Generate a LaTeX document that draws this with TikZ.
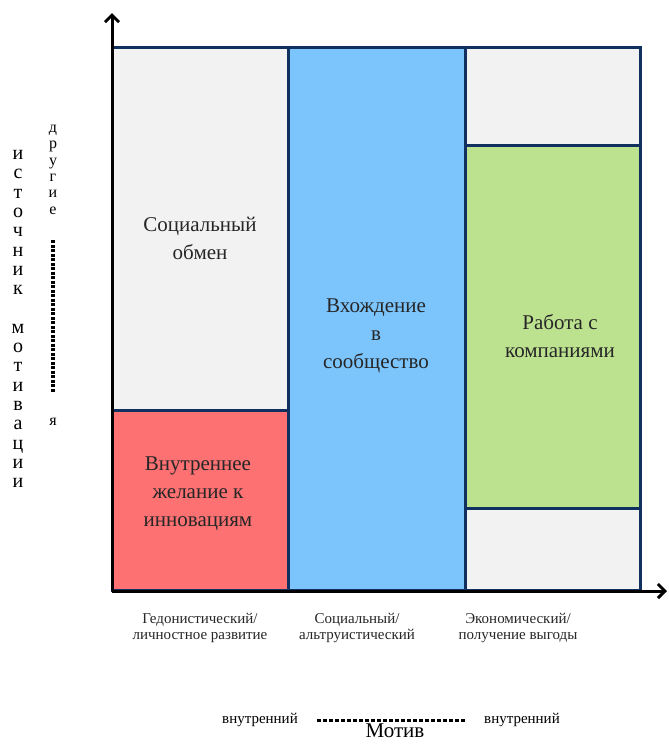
\documentclass[tikz,border=0pt]{standalone}
\usepackage{fontspec}
\setmainfont{Liberation Serif}
\usetikzlibrary{arrows.meta}
\definecolor{navy}{HTML}{10305F}
\definecolor{cgray}{HTML}{F2F2F2}
\definecolor{cblue}{HTML}{7CC4FC}
\definecolor{cred}{HTML}{FD7172}
\definecolor{cgreen}{HTML}{BDE28F}
\tikzset{
  cell/.style={draw=navy, line width=3pt, anchor=north west, inner sep=0pt, outer sep=0pt},
  celltext/.style={align=center, font=\fontsize{21}{28}\selectfont, text=black!85},
  axislab/.style={align=center, font=\fontsize{15}{16}\selectfont, text=black!85},
  axisline/.style={line width=3pt, -{Straight Barb[length=7pt,width=14pt,line width=3pt]}},
  vletter/.style={font=\fontsize{20}{20}\selectfont, inner sep=0pt, text height=9pt, text depth=0pt},
  vsmall/.style={font=\fontsize{16}{16}\selectfont, inner sep=0pt, text height=7pt, text depth=0pt},
}
\begin{document}
\begin{tikzpicture}[x=1pt,y=-1pt]
\useasboundingbox (0,0) rectangle (669,745);
% cells
\node[cell, fill=cgray, minimum width=176pt, minimum height=363pt] (c1) at (112,47) {};
\node[cell, fill=cred, minimum width=176pt, minimum height=180pt] (c2) at (112,410) {};
\node[cell, fill=cblue, minimum width=177pt, minimum height=543pt] (c3) at (288,47) {};
\node[cell, fill=cgray, minimum width=175pt, minimum height=98pt] (c4) at (465,47) {};
\node[cell, fill=cgreen, minimum width=175pt, minimum height=363pt] (c5) at (465,145) {};
\node[cell, fill=cgray, minimum width=175pt, minimum height=82pt] (c6) at (465,508) {};
% cell texts
\node[celltext] (t1) at (200,238) {Социальный\\обмен};
\node[celltext] (t2) at (198,494) {Внутреннее\\желание к\\инновациям};
\node[celltext] (t3) at (376,336) {Вхождение\\в\\сообщество};
\node[celltext] (t4) at (560,336) {Работа с\\компаниями};
% axes
\coordinate (o) at (112,591);
\coordinate (ytop) at (112,13);
\coordinate (xend) at (667,591);
\draw[axisline] (o) -- (ytop);
\draw[axisline] (o) -- (xend);
% axis labels
\node[axislab] (l1) at (200,628) {Гедонистический/\\личностное развитие};
\node[axislab] (l2) at (357,628) {Социальный/\\альтруистический};
\node[axislab] (l3) at (518,628) {Экономический/\\получение выгоды};
% bottom motive scale
\node[font=\fontsize{15}{15}\selectfont] (m1) at (260,720) {внутренний};
\node[font=\fontsize{15}{15}\selectfont] (m2) at (522,720) {внутренний};
\node[font=\fontsize{21}{21}\selectfont, inner sep=1pt] (m3) at (395,731) {Мотив};
\draw[line width=3pt, dash pattern=on 4pt off 2pt] (m1.east) ++(16,0) coordinate (d1) -- ([xshift=-16pt]m2.west) coordinate (d2);
% left vertical labels
\foreach \ch [count=\i from 0] in {и,с,т,о,ч,н,и,к} {
  \node[vletter] (s\i) at (18,155+19.3*\i) {\ch};
}
\foreach \ch [count=\i from 9] in {м,о,т,и,в,а,ц,и,и} {
  \node[vletter] (s\i) at (18,155+19.3*\i) {\ch};
}
\foreach \ch [count=\i from 0] in {д,р,у,г,и,е} {
  \node[vsmall] (o\i) at (53,129+16.3*\i) {\ch};
}
\node[vsmall] (ya) at (53,422) {я};
\coordinate (v1) at (53,240);
\coordinate (v2) at (53,393);
\draw[line width=3.5pt, dash pattern=on 3pt off 1.5pt] (v1) -- (v2);
\end{tikzpicture}
\end{document}
